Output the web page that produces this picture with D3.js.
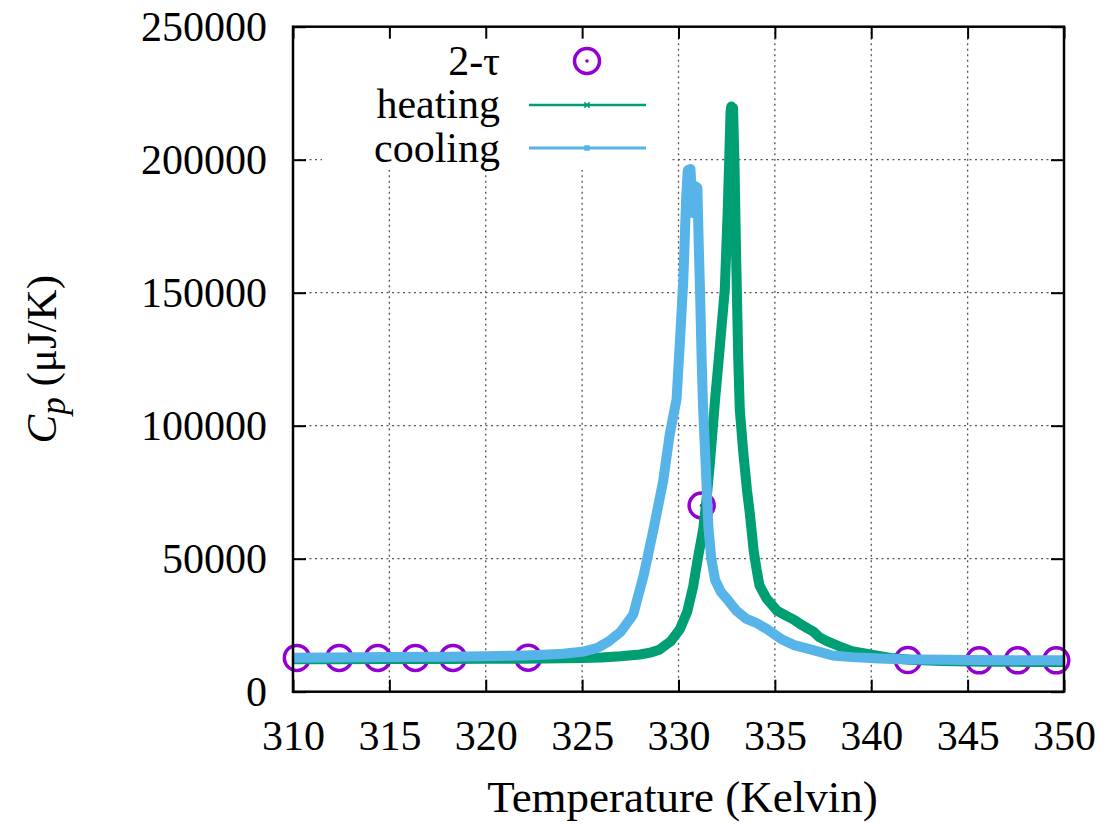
<!DOCTYPE html>
<html>
<head>
<meta charset="utf-8">
<script src="https://cdn.jsdelivr.net/npm/d3@7"></script>
<style>
    body { margin: 0; background: #fff; }
</style>
</head>
<body>
<svg id="chart" width="1108" height="824"></svg>
<script>
// ---- data ----
const xTicks = [310, 315, 320, 325, 330, 335, 340, 345, 350];
const yTicks = [0, 50000, 100000, 150000, 200000, 250000];

// 2-tau points
const tauT  = [310.2, 312.4, 314.4, 316.35, 318.3, 322.2, 331.2, 341.9, 345.6, 347.6, 349.6];
const tauCp = [12700, 12700, 12700, 12700, 12700, 12800, 70000, 11900, 11800, 11800, 11800];

// heating curve
const heatT  = [310, 312, 315, 318, 320, 322, 324, 325, 326, 327, 328, 328.6, 329, 329.6, 330.07,
                330.45, 330.76, 331.0, 331.28, 331.45, 331.63, 331.9, 332.1, 332.4, 332.55, 332.65,
                332.7, 332.74, 332.78, 332.83, 332.9, 333.0, 333.1, 333.18, 333.36, 333.55, 333.7,
                333.9, 334.05, 334.2, 334.57, 335.1, 335.6, 336.0, 336.3, 336.7, 337.0, 337.3,
                337.7, 338.4, 339.0, 340.1, 341.0, 342.0, 343.6, 346.0, 348.0, 350.0];
const heatCp = [12200, 12200, 12300, 12300, 12400, 12400, 12600, 12700, 12900, 13300, 14000, 14800,
                15800, 19000, 23500, 30000, 39500, 50000, 61000, 72000, 86000, 110000, 126000,
                151000, 180000, 205000, 218000, 220000, 218500, 219500, 200000, 160000, 125000,
                106000, 90000, 76000, 67000, 53000, 46000, 40000, 35000, 30500, 28500, 27000,
                25500, 23800, 22600, 20500, 19000, 16900, 15200, 13800, 12700, 12000, 11500,
                11300, 11200, 11200];

// cooling curve
const coolT  = [310, 312, 315, 318, 320, 322, 323, 324, 325, 325.8, 326.4, 327, 327.65, 328.2,
                328.7, 329.2, 329.55, 329.9, 330.1, 330.25, 330.4, 330.48, 330.62, 330.7, 330.75,
                330.8, 330.88, 330.98, 331.05, 331.12, 331.2, 331.28, 331.38, 331.55, 331.7, 331.9,
                332.2, 332.5, 333.0, 333.5, 334.0, 334.6, 335.0, 335.4, 336.0, 336.8, 338.0,
                339.0, 340.4, 341.5, 345.0, 350.0];
const coolCp = [12800, 12900, 13000, 13100, 13300, 13600, 13900, 14300, 15000, 16500, 19000, 22500,
                29000, 44000, 61000, 79000, 97000, 110000, 135000, 155000, 186000, 196000, 196500,
                186000, 180000, 184000, 190000, 189500, 168000, 150000, 125000, 106000, 90000,
                62000, 50000, 42000, 37500, 35000, 30500, 27500, 26000, 23500, 21500, 19500,
                17500, 16000, 13600, 13000, 12500, 12200, 11900, 11800];

const seriesNames = ["2-τ", "heating", "cooling"];
const colors = { tau: "#9400d3", heating: "#009e73", cooling: "#56b4e9" };

// ---- layout ----
const svg = d3.select("#chart");
const plot = { left: 293, right: 1064, top: 26.7, bottom: 691.7 };
const FONT = 42;
const SERIF = "'Liberation Serif', 'DejaVu Serif', 'Times New Roman', Times, serif";

const x = d3.scaleLinear().domain([310, 350]).range([plot.left, plot.right]);
const y = d3.scaleLinear().domain([0, 250000]).range([plot.bottom, plot.top]);

// grid
const grid = svg.append("g")
    .attr("stroke", "#555")
    .attr("stroke-width", 1.3)
    .attr("stroke-dasharray", "2,3.5");
grid.selectAll("line.gx")
    .data(xTicks.slice(1, -1))
    .join("line")
    .attr("x1", d => x(d)).attr("x2", d => x(d))
    .attr("y1", plot.top).attr("y2", plot.bottom);
grid.selectAll("line.gy")
    .data(yTicks.slice(1, -1))
    .join("line")
    .attr("x1", plot.left).attr("x2", plot.right)
    .attr("y1", d => y(d)).attr("y2", d => y(d));

// key background covers the grid
svg.append("rect")
    .attr("x", 322).attr("y", 28)
    .attr("width", 348).attr("height", 142)
    .attr("fill", "#fff");

// axes (inward ticks)
const fmt = d3.format("d");
const bottomAxis = svg.append("g")
    .attr("transform", `translate(0,${plot.bottom})`)
    .call(d3.axisBottom(x).tickValues(xTicks).tickFormat(fmt).tickSize(-12).tickPadding(28));
const topAxis = svg.append("g")
    .attr("transform", `translate(0,${plot.top})`)
    .call(d3.axisTop(x).tickValues(xTicks).tickFormat("").tickSize(-12));
const leftAxis = svg.append("g")
    .attr("transform", `translate(${plot.left},0)`)
    .call(d3.axisLeft(y).tickValues(yTicks).tickFormat(fmt).tickSize(-13).tickPadding(26));
const rightAxis = svg.append("g")
    .attr("transform", `translate(${plot.right},0)`)
    .call(d3.axisRight(y).tickValues(yTicks).tickFormat("").tickSize(-13));

[bottomAxis, topAxis, leftAxis, rightAxis].forEach(a => {
    a.attr("font-family", SERIF).attr("font-size", FONT);
    a.select(".domain").remove();
    a.selectAll(".tick line").attr("stroke", "#000").attr("stroke-width", 2);
    a.selectAll("text").attr("fill", "#000");
});

// 2-tau circles
const tau = tauT.map((t, i) => ({ t: t, v: tauCp[i] }));
const tauG = svg.append("g");
tauG.selectAll("circle.ring")
    .data(tau)
    .join("circle")
    .attr("cx", d => x(d.t)).attr("cy", d => y(d.v))
    .attr("r", 12.5)
    .attr("fill", "none")
    .attr("stroke", colors.tau)
    .attr("stroke-width", 3.5);
tauG.selectAll("circle.dot")
    .data(tau)
    .join("circle")
    .attr("cx", d => x(d.t)).attr("cy", d => y(d.v))
    .attr("r", 1.8)
    .attr("fill", colors.tau);

// curves
const line = d3.line()
    .x(d => x(d.t))
    .y(d => y(d.v));

function drawCurve(ts, vs, color) {
    const pts = ts.map((t, i) => ({ t: t, v: vs[i] }));
    svg.append("path")
        .datum(pts)
        .attr("d", line)
        .attr("fill", "none")
        .attr("stroke", color)
        .attr("stroke-width", 10)
        .attr("stroke-linejoin", "round")
        .attr("stroke-linecap", "butt");
}
drawCurve(heatT, heatCp, colors.heating);
drawCurve(coolT, coolCp, colors.cooling);

// border
svg.append("rect")
    .attr("x", plot.left).attr("y", plot.top)
    .attr("width", plot.right - plot.left)
    .attr("height", plot.bottom - plot.top)
    .attr("fill", "none")
    .attr("stroke", "#000")
    .attr("stroke-width", 2.5);

// key
const key = svg.append("g").attr("font-family", SERIF).attr("font-size", FONT);
const keyRows = [
    { name: seriesNames[0], base: 75 },
    { name: seriesNames[1], base: 118 },
    { name: seriesNames[2], base: 162 },
];
key.selectAll("text")
    .data(keyRows)
    .join("text")
    .attr("x", 500).attr("y", d => d.base)
    .attr("text-anchor", "end")
    .text(d => d.name);

const sx1 = 529, sx2 = 646, sMid = 587;
key.append("circle")
    .attr("cx", sMid).attr("cy", keyRows[0].base - 14)
    .attr("r", 12.5).attr("fill", "none")
    .attr("stroke", colors.tau).attr("stroke-width", 3.5);
key.append("circle")
    .attr("cx", sMid).attr("cy", keyRows[0].base - 14)
    .attr("r", 1.8).attr("fill", colors.tau);

key.append("line")
    .attr("x1", sx1).attr("x2", sx2)
    .attr("y1", keyRows[1].base - 13).attr("y2", keyRows[1].base - 13)
    .attr("stroke", colors.heating).attr("stroke-width", 2.5);
key.append("path")
    .attr("d", d3.symbol(d3.symbolX, 20)())
    .attr("transform", `translate(${sMid},${keyRows[1].base - 13})`)
    .attr("stroke", colors.heating).attr("stroke-width", 1.5).attr("fill", "none");

key.append("line")
    .attr("x1", sx1).attr("x2", sx2)
    .attr("y1", keyRows[2].base - 14).attr("y2", keyRows[2].base - 14)
    .attr("stroke", colors.cooling).attr("stroke-width", 3);
key.append("path")
    .attr("d", d3.symbol(d3.symbolSquare, 30)())
    .attr("transform", `translate(${sMid},${keyRows[2].base - 14})`)
    .attr("fill", colors.cooling);

// axis titles
svg.append("text")
    .attr("x", (plot.left + plot.right) / 2 + 4)
    .attr("y", 812)
    .attr("text-anchor", "middle")
    .attr("font-family", SERIF)
    .attr("font-size", 45)
    .text("Temperature (Kelvin)");

const ylab = svg.append("text")
    .attr("transform", `translate(56,${(plot.top + plot.bottom) / 2}) rotate(-90)`)
    .attr("text-anchor", "middle")
    .attr("font-family", SERIF)
    .attr("font-size", 43);
ylab.append("tspan").attr("font-style", "italic").text("C");
ylab.append("tspan").attr("font-style", "italic").attr("font-size", 35).attr("dy", 9).text("p");
ylab.append("tspan").attr("dy", -9).text(" (μJ/K)");
</script>
</body>
</html>
